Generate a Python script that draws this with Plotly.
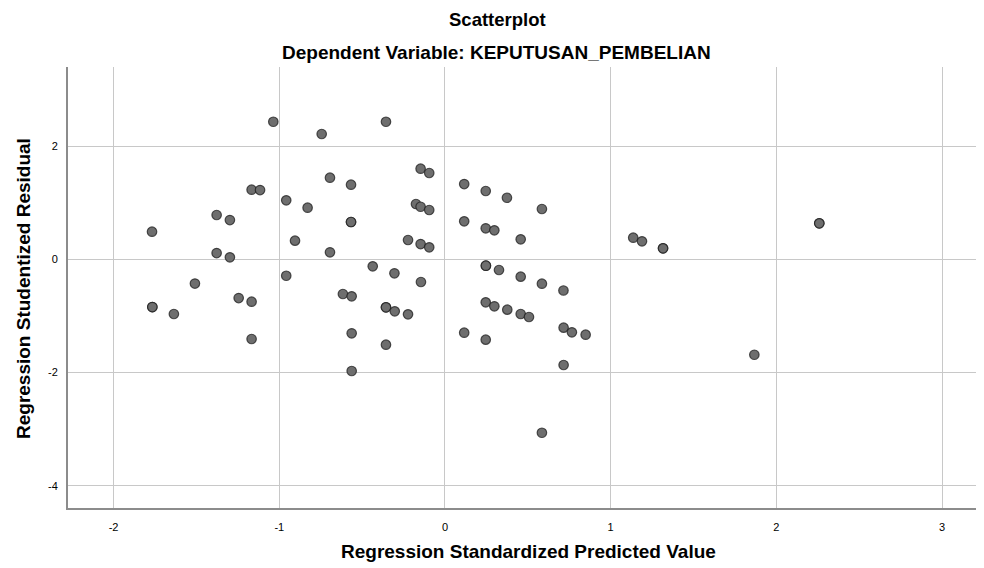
import plotly.graph_objects as go

pred = [-1.036, -0.744, -0.356, -0.694, -0.567, -1.167, -1.116, -0.958, -0.829, -1.378,
        -1.298, -0.567, -0.567, -1.768, -0.905, -1.378, -1.298, -0.694, -0.436, -0.958,
        -1.509, -1.245, -1.167, -1.766, -1.766, -1.636, -1.167, -0.616, -0.563, -0.356,
        -0.356, -0.563, -0.356, -0.563, -0.147, -0.095, 0.116, 0.246, 0.374, 0.585,
        -0.175, -0.147, -0.095, 0.116, 0.246, 0.298, 0.457, -0.223, -0.147, -0.095,
        1.136, 1.189, 1.316, 1.316, 0.247, 0.247, 0.326, -0.305, -0.145, 0.457,
        0.585, 0.715, -0.303, -0.223, 0.246, 0.298, 0.376, 0.457, 0.507, 0.116,
        0.246, 0.716, 0.766, 0.849, 0.716, 0.585, 2.259, 2.259, 1.867]
resid = [2.431, 2.214, 2.431, 1.442, 1.318, 1.230, 1.224, 1.042, 0.912, 0.783,
         0.694, 0.659, 0.659, 0.488, 0.329, 0.111, 0.035, 0.124, -0.124, -0.290,
         -0.428, -0.684, -0.749, -0.843, -0.843, -0.966, -1.408, -0.613, -0.654, -0.848,
         -0.848, -1.307, -1.509, -1.973, 1.601, 1.525, 1.330, 1.207, 1.088, 0.889,
         0.977, 0.929, 0.871, 0.671, 0.548, 0.512, 0.353, 0.341, 0.270, 0.212,
         0.382, 0.318, 0.194, 0.194, -0.113, -0.113, -0.189, -0.247, -0.401, -0.307,
         -0.431, -0.551, -0.919, -0.972, -0.760, -0.830, -0.890, -0.966, -1.019, -1.297,
         -1.420, -1.208, -1.290, -1.332, -1.867, -3.064, 0.636, 0.636, -1.686]

x_ticks = [-2, -1, 0, 1, 2, 3]
y_ticks = [-4, -2, 0, 2]

title_main = "Scatterplot"
title_sub = "Dependent Variable: KEPUTUSAN_PEMBELIAN"
x_title = "Regression Standardized Predicted Value"
y_title = "Regression Studentized Residual"

font_family = "Liberation Sans, Arial, sans-serif"

# page body has an 8px margin; work in window pixels and subtract it
OFF = 8
W, H = 984 - OFF, 568 - OFF
L, R, T, B = 68 - OFF, 0, 67 - OFF, 568 - 508
pw, ph = W - L - R, H - T - B

def px_x(p):
    return (p - OFF - L) / pw

def px_y(p):
    return (H - B - (p - OFF)) / ph

fig = go.Figure()
fig.add_trace(go.Scatter(
    x=pred, y=resid, mode="markers",
    marker=dict(size=9.5, color="rgba(110,110,110,1)",
                line=dict(color="rgba(30,30,30,0.75)", width=1.2)),
    hoverinfo="x+y", showlegend=False,
))

fig.update_layout(
    width=W, height=H,
    margin=dict(l=L, r=R, t=T, b=B),
    paper_bgcolor="white", plot_bgcolor="white",
    font=dict(family=font_family, color="#000000"),
    xaxis=dict(range=[-2.275, 3.253], tickvals=x_ticks, ticktext=[str(v) for v in x_ticks],
               showgrid=True, gridcolor="#c8c8c8", gridwidth=1, zeroline=False,
               showline=True, linecolor="#8c8c8c", linewidth=2, automargin=False,
               ticks="", ticklabelstandoff=8, tickfont=dict(size=11, color="#000000")),
    yaxis=dict(range=[-4.394, 3.398], tickvals=y_ticks, ticktext=[str(v) for v in y_ticks],
               showgrid=True, gridcolor="#c8c8c8", gridwidth=1, zeroline=False,
               showline=True, linecolor="#8c8c8c", linewidth=2, automargin=False,
               ticks="", ticklabelstandoff=6, tickfont=dict(size=11, color="#000000")),
    annotations=[
        dict(text="<b>" + title_main + "</b>", x=px_x(497), y=px_y(19),
             xref="paper", yref="paper", xanchor="center", yanchor="middle",
             showarrow=False, font=dict(size=18.5)),
        dict(text="<b>" + title_sub + "</b>", x=px_x(496.5), y=px_y(52.5),
             xref="paper", yref="paper", xanchor="center", yanchor="middle",
             showarrow=False, font=dict(size=19)),
        dict(text="<b>" + x_title + "</b>", x=px_x(528), y=px_y(551),
             xref="paper", yref="paper", xanchor="center", yanchor="middle",
             showarrow=False, font=dict(size=19)),
        dict(text="<b>" + y_title + "</b>", x=px_x(23), y=px_y(289),
             xref="paper", yref="paper", xanchor="center", yanchor="middle",
             textangle=-90, showarrow=False, font=dict(size=19)),
    ],
)

fig.write_html("out.html")
